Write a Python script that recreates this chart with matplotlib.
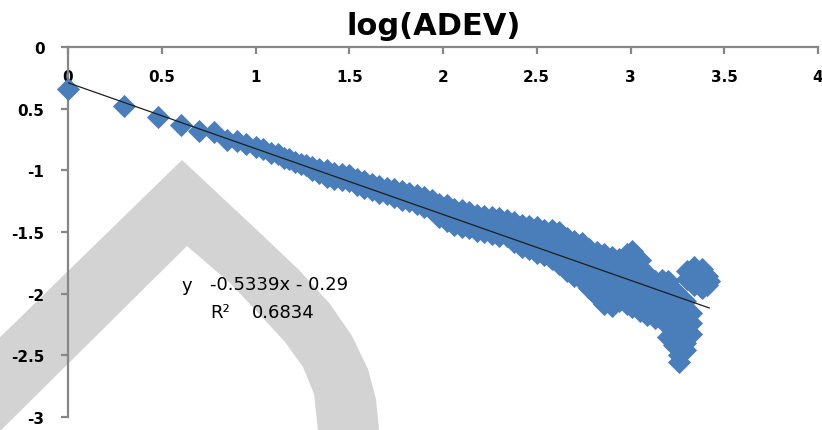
import matplotlib
matplotlib.use("Agg")
import matplotlib.pyplot as plt
from matplotlib.patches import Polygon
from matplotlib.transforms import Affine2D
from matplotlib.ticker import FixedLocator, FixedFormatter

W, H = 822, 431

# --- data: log10(tau) vs log10(ADEV) ---
x_first = [0.00, 0.30, 0.48, 0.60, 0.70, 0.78, 0.85, 0.90, 0.95]
y_first = [-0.34, -0.48, -0.57, -0.63, -0.68, -0.69, -0.75, -0.76, -0.79]

col_x = [1.00, 1.04, 1.08, 1.12, 1.15, 1.18, 1.21, 1.24, 1.27, 1.30,
         1.34, 1.38, 1.42, 1.46, 1.50, 1.54, 1.58, 1.62, 1.66, 1.70,
         1.74, 1.78, 1.82, 1.86, 1.90, 1.94, 1.98, 2.02, 2.06, 2.10,
         2.14, 2.18, 2.22, 2.26, 2.30, 2.34, 2.38, 2.42, 2.46, 2.50,
         2.54, 2.58, 2.62, 2.66, 2.70, 2.74, 2.78, 2.82, 2.86, 2.90,
         2.94, 2.98, 3.01, 3.05, 3.09, 3.13, 3.17, 3.20, 3.23, 3.26,
         3.29, 3.32]
col_y = [
    [-0.81], [-0.83], [-0.86], [-0.87], [-0.90], [-0.91], [-0.93], [-0.95],
    [-0.96], [-0.97, -1.00],
    [-0.99, -1.02], [-1.00, -1.05], [-1.02, -1.07], [-1.03, -1.08],
    [-1.04, -1.09], [-1.07, -1.12], [-1.09, -1.14], [-1.11, -1.16],
    [-1.13, -1.18], [-1.14, -1.19],
    [-1.15, -1.22], [-1.17, -1.24], [-1.18, -1.25], [-1.20, -1.27],
    [-1.22, -1.30], [-1.24, -1.32],
    [-1.27, -1.33, -1.38], [-1.28, -1.35, -1.41], [-1.31, -1.37, -1.44],
    [-1.32, -1.39, -1.46],
    [-1.34, -1.41, -1.47], [-1.36, -1.43, -1.49], [-1.37, -1.44, -1.50],
    [-1.38, -1.45, -1.52], [-1.39, -1.46, -1.53], [-1.40, -1.47, -1.53],
    [-1.42, -1.50, -1.58], [-1.44, -1.52, -1.62], [-1.45, -1.54, -1.64],
    [-1.46, -1.56, -1.67],
    [-1.48, -1.58, -1.69], [-1.48, -1.58, -1.68, -1.72],
    [-1.50, -1.60, -1.70, -1.76], [-1.55, -1.63, -1.72, -1.82],
    [-1.57, -1.66, -1.76, -1.86], [-1.59, -1.68, -1.78, -1.89],
    [-1.64, -1.72, -1.81, -1.90, -1.95], [-1.66, -1.75, -1.85, -1.95, -2.02],
    [-1.68, -1.77, -1.87, -1.97, -2.08], [-1.70, -1.80, -1.90, -2.00, -2.10],
    [-1.72, -1.81, -1.90, -1.99, -2.06], [-1.68, -1.78, -1.88, -1.98, -2.08],
    [-1.65, -1.75, -1.85, -1.95, -2.05, -2.11],
    [-1.73, -1.83, -1.93, -2.03, -2.14], [-1.84, -1.93, -2.02, -2.10, -2.17],
    [-1.90, -1.98, -2.06, -2.14, -2.20], [-1.89, -1.97, -2.05, -2.14],
    [-1.90, -1.99, -2.08, -2.17, -2.26, -2.35],
    [-1.97, -2.06, -2.15, -2.24, -2.33, -2.42],
    [-2.05, -2.14, -2.23, -2.32, -2.41, -2.50, -2.55],
    [-2.06, -2.15, -2.24, -2.32, -2.40, -2.46],
    [-2.16, -2.24, -2.33],
]

blob_x = [3.30, 3.30, 3.34, 3.34, 3.34, 3.38, 3.38, 3.38, 3.41, 3.41, 3.42]
blob_y = [-1.82, -1.88, -1.78, -1.86, -1.93, -1.80, -1.88, -1.95, -1.86, -1.93, -1.90]

# linear trend reported on the chart
slope, intercept = -0.5339, -0.29
r_squared = 0.6834

x_ticks = [0, 0.5, 1, 1.5, 2, 2.5, 3, 3.5, 4]
x_tick_labels = ["0", "0.5", "1", "1.5", "2", "2.5", "3", "3.5", "4"]
y_ticks = [-3, -2.5, -2, -1.5, -1, -0.5, 0]
y_tick_labels = ["-3", "-2.5", "-2", "-1.5", "-1", "0.5", "0"]

# --- assemble points ---
xs = list(x_first)
ys = list(y_first)
for cx, cys in zip(col_x, col_y):
    for cy in cys:
        xs.append(cx)
        ys.append(cy)
xs += blob_x
ys += blob_y

fig = plt.figure(figsize=(W / 100, H / 100), dpi=100)
fig.patch.set_facecolor("white")

# background watermark band, in pixel coordinates (origin top-left)
px = Affine2D().scale(1 / W, -1 / H).translate(0, 1) + fig.transFigure
band = [(-12, 350), (182, 161), (258, 232), (300, 272), (330, 305), (352, 337),
        (368, 370), (376, 400), (379, 431), (380, 445),
        (318, 445), (318, 431), (314, 395), (303, 368), (285, 343), (262, 318),
        (230, 284), (187, 247), (-12, 444)]
fig.patches.append(Polygon(band, closed=True, transform=px, facecolor="#d3d3d3",
                           edgecolor="none", zorder=-5))

left, right = 68 / W, 818 / W
top, bottom = 1 - 48 / H, 1 - 418 / H
ax = fig.add_axes([left, bottom, right - left, top - bottom])
ax.patch.set_facecolor("none")

marker_blue = "#4a7ebb"
ax.plot(xs, ys, linestyle="none", marker="D", markersize=11.2,
        markerfacecolor=marker_blue, markeredgecolor=marker_blue,
        markeredgewidth=0.6, zorder=3, clip_on=False)

x_end = max(xs)
ax.plot([0, x_end], [intercept, slope * x_end + intercept],
        color="#1e1e1e", linewidth=0.9, zorder=4)

ax.set_xlim(0, 4)
ax.set_ylim(-3, 0)

axis_gray = "#868686"
for s in ("right", "top"):
    ax.spines[s].set_visible(False)
ax.spines["bottom"].set_position(("data", 0))
for s in ("left", "bottom"):
    ax.spines[s].set_color(axis_gray)
    ax.spines[s].set_linewidth(1.6)

ax.xaxis.set_major_locator(FixedLocator(x_ticks))
ax.xaxis.set_major_formatter(FixedFormatter(x_tick_labels))
ax.yaxis.set_major_locator(FixedLocator(y_ticks))
ax.yaxis.set_major_formatter(FixedFormatter(y_tick_labels))

ax.tick_params(axis="x", direction="out", length=5, width=1.6, color=axis_gray,
               pad=11, labelsize=11)
ax.tick_params(axis="y", direction="out", length=5, width=1.6, color=axis_gray,
               pad=12, labelsize=11)
for lab in ax.get_xticklabels() + ax.get_yticklabels():
    lab.set_fontweight("bold")
    lab.set_color("black")

# title
fig.text(433.5 / W, 1 - 35 / H, "log(ADEV)", ha="center", va="baseline",
         fontsize=22, fontweight="bold", color="black")

# regression annotation
fig.text(182 / W, 1 - 286 / H, "y", ha="left", va="center", fontsize=13)
fig.text(210 / W, 1 - 285 / H, f"{slope}x - {abs(intercept)}", ha="left",
         va="center", fontsize=13)
fig.text(210 / W, 1 - 313 / H, "R²", ha="left", va="center", fontsize=13)
fig.text(252 / W, 1 - 313 / H, f"{r_squared}", ha="left", va="center",
         fontsize=13)

fig.savefig("out.png", dpi=100, facecolor="white")
